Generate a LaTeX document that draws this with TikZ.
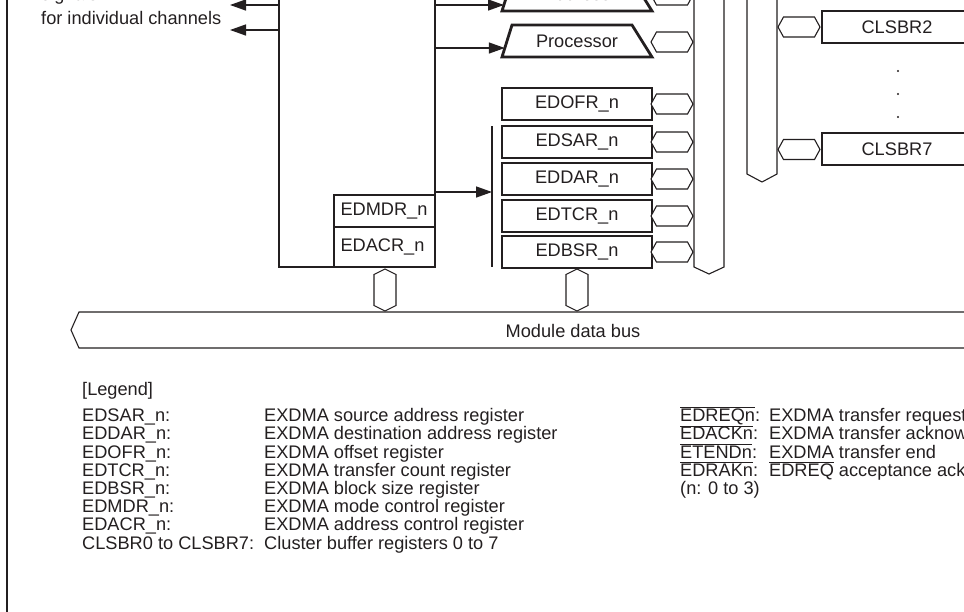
\documentclass[tikz,border=0pt]{standalone}
\usepackage{fontspec}
\setmainfont{Liberation Sans}
\usetikzlibrary{arrows.meta}
\definecolor{ink}{RGB}{35,31,32}
\newcommand\fs{\fontsize{18.2}{22}\selectfont}
\newcommand\ovl[1]{\ensuremath{\overline{\mbox{#1}}}}
\begin{document}
\begin{tikzpicture}[x=1pt,y=-1pt,
  font=\fs, text=ink,
  reg/.style={draw=ink,line width=2.8pt,minimum width=150pt,minimum height=32pt,inner sep=0pt,fill=white},
  smallreg/.style={draw=ink,line width=2.4pt,minimum width=101pt,inner sep=0pt,text width=88pt,align=left},
  trap/.style={draw=ink,line width=2.8pt,line join=miter},
  wire/.style={draw=ink,line width=1.4pt},
  sig/.style={wire,-{Triangle[length=16pt,width=11pt]}},
  busline/.style={draw=ink,line width=1.1pt,fill=white,line join=miter},
  lg/.style={inner sep=0pt,anchor=base west},
  hexh/.pic={\draw[busline] (-21,0) -- (-15.5,-10) -- (15.5,-10) -- (21,0) -- (15.5,10) -- (-15.5,10) -- cycle;},
  hexv/.pic={\draw[busline] (0,-21) -- (11,-15.5) -- (11,15.5) -- (0,21) -- (-11,15.5) -- (-11,-15.5) -- cycle;}
]
\useasboundingbox (0,0) rectangle (964,611);

% outer frame (left edge visible)
\draw[ink,line width=2.6pt] (7,-10) -- (7,621);

% control logic box
\node[draw=ink,line width=2.8pt,minimum width=156pt,minimum height=467pt,inner sep=0pt] (ctrl) at (357,33.5) {};
\node[smallreg,minimum height=32pt] (mdr) at (384.5,211) {EDMDR\_n};
\node[smallreg,minimum height=40pt] (acr) at (384.5,247) {EDACR\_n};

% signals to the left
\node[lg] (sigtxt0) at (41,0.3) {signals};
\node[lg] (sigtxt1) at (41,24) {for individual channels};
\coordinate (outA) at (230,5);
\coordinate (outB) at (230,30);
\draw[sig] (ctrl.west |- outA) -- (outA);
\draw[sig] (ctrl.west |- outB) -- (outB);

% trapezoids
\draw[trap] (502,11) -- (512,-21) -- (632,-21) -- (652,11) -- cycle;
\node (addr) at (577,-6) {Address};
\draw[trap] (502,57) -- (512,25) -- (632,25) -- (652,57) -- cycle;
\node (proc) at (577,41.5) {Processor};
\coordinate (addrin) at (504,5);
\coordinate (procin) at (504.8,48);
\draw[sig] (ctrl.east |- addrin) -- (addrin);
\draw[sig] (ctrl.east |- procin) -- (procin);

% registers
\node[reg] (ofr) at (577,104) {EDOFR\_n};
\node[reg] (sar) at (577,142) {EDSAR\_n};
\node[reg] (dar) at (577,179) {EDDAR\_n};
\node[reg] (tcr) at (577,216) {EDTCR\_n};
\node[reg] (bsr) at (577,252) {EDBSR\_n};

% group bar and arrow
\coordinate (bartop) at (492,126);
\coordinate (barbot) at (492,267);
\draw[ink,line width=2.6pt] (bartop) -- (barbot);
\coordinate (barin) at (492,192);
\draw[sig] (ctrl.east |- barin) -- (barin);

% vertical internal buses
\draw[busline] (694,-30) -- (694,267) -- (709,274) -- (724,267) -- (724,-30);
\draw[busline] (747,-30) -- (747,174) -- (762,182) -- (777,174) -- (777,-30);

% horizontal connectors
\foreach \yy in {-5,42,104,142,179,216,252} \pic at (672,\yy) {hexh};
\pic at (799,27) {hexh};
\pic at (799,149.5) {hexh};

% cluster buffer registers
\node[reg] (cl2) at (897,27) {CLSBR2};
\node[reg] (cl7) at (897,149) {CLSBR7};
\foreach \yy in {71,94,117} \fill[ink] (898,\yy) circle (1.1pt);

% module data bus
\draw[busline] (985,312) -- (79,312) -- (71,330) -- (79,348) -- (985,348);
\node (mdb) at (573,331) {Module data bus};
\pic at (385,290) {hexv};
\pic at (577,290) {hexv};

% legend
\node[lg] (lgh) at (82,395.6) {[Legend]};
\node[lg] (n1) at (82,421.6) {EDSAR\_n:};
\node[lg] (d1) at (264,421.6) {EXDMA source address register};
\node[lg] (n2) at (82,439.8) {EDDAR\_n:};
\node[lg] (d2) at (264,439.8) {EXDMA destination address register};
\node[lg] (n3) at (82,458) {EDOFR\_n:};
\node[lg] (d3) at (264,458) {EXDMA offset register};
\node[lg] (n4) at (82,476.2) {EDTCR\_n:};
\node[lg] (d4) at (264,476.2) {EXDMA transfer count register};
\node[lg] (n5) at (82,494.4) {EDBSR\_n:};
\node[lg] (d5) at (264,494.4) {EXDMA block size register};
\node[lg] (n6) at (82,512.6) {EDMDR\_n:};
\node[lg] (d6) at (264,512.6) {EXDMA mode control register};
\node[lg] (n7) at (82,530.8) {EDACR\_n:};
\node[lg] (d7) at (264,530.8) {EXDMA address control register};
\node[lg] (n8) at (82,549) {CLSBR0 to CLSBR7:};
\node[lg] (d8) at (264,549) {Cluster buffer registers 0 to 7};

\node[lg] (r1) at (680,421.6) {\ovl{EDREQn}:};
\node[lg] (s1) at (769,421.6) {EXDMA transfer request};
\node[lg] (r2) at (680,439.8) {\ovl{EDACKn}:};
\node[lg] (s2) at (769,439.8) {EXDMA transfer acknowledge};
\node[lg] (r3) at (680,458) {\ovl{ETENDn}:};
\node[lg] (s3) at (769,458) {EXDMA transfer end};
\node[lg] (r4) at (680,476.2) {\ovl{EDRAKn}:};
\node[lg] (s4) at (769,476.2) {\ovl{EDREQ} acceptance acknowledge};
\node[lg] (r5) at (680,494.4) {(n: 0 to 3)};
\end{tikzpicture}
\end{document}
